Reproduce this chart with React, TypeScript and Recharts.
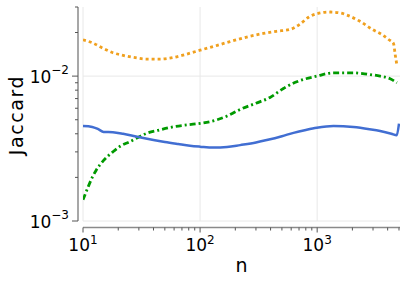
import React from 'react';
import { LineChart, Line, XAxis, YAxis, CartesianGrid } from 'recharts';

const blueN = [10, 12, 13.5, 15, 18, 22, 29, 40, 50, 65, 82, 100, 130, 170, 220, 300, 371, 500, 628, 800, 993, 1378, 2041, 2800, 3451, 4300, 4780, 5000];
const blueV = [0.00452, 0.00446, 0.0043, 0.00412, 0.0041, 0.004, 0.00381, 0.00362, 0.00351, 0.0034, 0.00331, 0.00326, 0.00321, 0.00324, 0.00334, 0.00348, 0.00362, 0.00385, 0.00406, 0.00425, 0.0044, 0.00452, 0.00445, 0.0043, 0.00418, 0.004, 0.0039, 0.0047];

const orangeN = [10, 12, 15, 18, 22, 28, 35, 45, 55, 70, 100, 140, 180, 250, 347, 450, 587, 716, 850, 1000, 1291, 1600, 1794, 2300, 3027, 3600, 4078, 4486, 4645, 4800];
const orangeV = [0.0178, 0.017, 0.0155, 0.0145, 0.0139, 0.0134, 0.0131, 0.0131, 0.0133, 0.0139, 0.0151, 0.0163, 0.0173, 0.0186, 0.0197, 0.0204, 0.021, 0.0229, 0.0256, 0.027, 0.0277, 0.0272, 0.0264, 0.024, 0.0208, 0.0193, 0.0179, 0.0168, 0.014, 0.0119];

const greenN = [10, 11, 12, 13, 15, 18, 21, 25, 30, 35, 45, 59, 80, 100, 138, 170, 220, 300, 396, 515, 670, 993, 1378, 2041, 2700, 3451, 4200, 4800];
const greenV = [0.0014, 0.0017, 0.002, 0.00225, 0.00262, 0.003, 0.0033, 0.00352, 0.0038, 0.00403, 0.00425, 0.00447, 0.00462, 0.00472, 0.00498, 0.0053, 0.00589, 0.0065, 0.00713, 0.00822, 0.00914, 0.01, 0.01054, 0.01054, 0.0103, 0.01, 0.0096, 0.009];

const xTicks = [10, 20, 30, 40, 50, 60, 70, 80, 90, 100, 200, 300, 400, 500, 600, 700, 800, 900, 1000, 2000, 3000, 4000, 5000];
const yTicks = [0.001, 0.002, 0.003, 0.004, 0.005, 0.006, 0.007, 0.008, 0.009, 0.01, 0.02, 0.03];
const xMajor = [10, 100, 1000];
const yMajor = [0.001, 0.01];
const xLabel = 'n';
const yLabel = 'Jaccard';

const toData = (ns: number[], vs: number[]) => ns.map((n, i) => ({ n, v: vs[i] }));
const blueData = toData(blueN, blueV);
const orangeData = toData(orangeN, orangeV);
const greenData = toData(greenN, greenV);

const FONT = '"DejaVu Sans", sans-serif';

const isMajor = (v: number) => {
  const l = Math.log10(v);
  return Math.abs(l - Math.round(l)) < 1e-9;
};

const XTick = (props: any) => {
  const { x, y, payload } = props;
  const v = payload.value;
  const major = isMajor(v);
  const e = Math.round(Math.log10(v));
  return (
    <g>
      <line x1={x} x2={x} y1={y + 6.5} y2={y + 6.5 + (major ? 5 : 3)} stroke="#555" strokeWidth={1} />
      {major && (
        <text x={x} y={y + 29.5} textAnchor="middle" fontFamily={FONT} fill="#000">
          <tspan fontSize={17}>10</tspan>
          <tspan fontSize={12} dy={-7}>{e}</tspan>
        </text>
      )}
    </g>
  );
};

const YTick = (props: any) => {
  const { x, y, payload } = props;
  const v = payload.value;
  const major = isMajor(v);
  const e = Math.round(Math.log10(v));
  return (
    <g>
      <line x1={x - 5} x2={x - 5 - (major ? 6 : 3)} y1={y} y2={y} stroke="#555" strokeWidth={1} />
      {major && (
        <text x={x - 14} y={y + 7} textAnchor="end" fontFamily={FONT} fill="#000">
          <tspan fontSize={17}>10</tspan>
          <tspan fontSize={12} dy={-9}>{'\u2212' + Math.abs(e)}</tspan>
        </text>
      )}
    </g>
  );
};

const XLabel = (props: any) => {
  const vb = props.viewBox;
  return (
    <text x={vb.x + vb.width / 2} y={vb.y + 50.5} textAnchor="middle" fontFamily={FONT} fontSize={19} fill="#000">
      {xLabel}
    </text>
  );
};

const YLabel = (props: any) => {
  const vb = props.viewBox;
  const cx = 22.7;
  const cy = vb.y + vb.height / 2 + 1;
  return (
    <text
      x={cx}
      y={cy}
      transform={`rotate(-90, ${cx}, ${cy})`}
      textAnchor="middle"
      fontFamily={FONT}
      fontSize={19}
      letterSpacing={1.6}
      fill="#000"
    >
      {yLabel}
    </text>
  );
};

export default function App() {
  return (
    <div style={{ position: 'absolute', left: 0, top: 0 }}>
      <LineChart
        width={407}
        height={285}
        margin={{ top: 7, right: 7, left: 0, bottom: 0 }}
        style={{ fontFamily: FONT }}
      >
        <CartesianGrid
          stroke="#e8e8e8"
          strokeWidth={1}
          verticalValues={xMajor}
          horizontalValues={yMajor}
        />
        <XAxis
          dataKey="n"
          type="number"
          scale="log"
          domain={[10, 5100]}
          allowDataOverflow
          ticks={xTicks}
          interval={0}
          tickSize={0}
          tickMargin={0}
          tickLine={false}
          axisLine={{ stroke: '#8a8a8a', strokeWidth: 1.5, transform: 'translate(0,6.5)' }}
          tick={<XTick />}
          height={64}
          label={<XLabel />}
        />
        <YAxis
          type="number"
          scale="log"
          domain={[0.001, 0.03]}
          allowDataOverflow
          ticks={yTicks}
          interval={0}
          tickSize={0}
          tickMargin={0}
          tickLine={false}
          axisLine={{ stroke: '#8a8a8a', strokeWidth: 1.5, transform: 'translate(-5,0)' }}
          tick={<YTick />}
          width={83}
          label={<YLabel />}
        />
        <Line data={orangeData} dataKey="v" type="monotone" stroke="#f0a01e" strokeWidth={2.8} strokeDasharray="3 3" dot={false} isAnimationActive={false} />
        <Line data={greenData} dataKey="v" type="monotone" stroke="#009a00" strokeWidth={2.8} strokeDasharray="6 3 2 3" dot={false} isAnimationActive={false} />
        <Line data={blueData} dataKey="v" type="monotone" stroke="#416ed2" strokeWidth={2.5} dot={false} isAnimationActive={false} />
      </LineChart>
    </div>
  );
}
